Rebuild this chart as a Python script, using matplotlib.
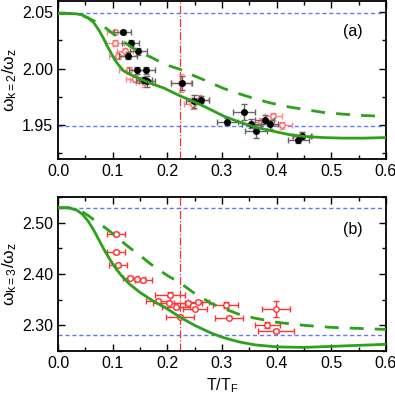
import matplotlib
matplotlib.use("Agg")
from matplotlib import pyplot as plt
from matplotlib.ticker import MultipleLocator, FormatStrFormatter

plt.rcParams['font.family'] = ['Liberation Sans', 'DejaVu Sans']
plt.rcParams['mathtext.fontset'] = 'custom'
plt.rcParams['mathtext.rm'] = 'Liberation Sans'
plt.rcParams['mathtext.it'] = 'Liberation Sans'

# theory curves, panel (a)
ta_x = [0.0, 0.02, 0.035, 0.045, 0.055, 0.065, 0.075, 0.083, 0.09, 0.098, 0.105, 0.113, 0.12, 0.13, 0.138, 0.15, 0.162, 0.175,
        0.193, 0.21, 0.223, 0.25, 0.27, 0.303, 0.33, 0.363, 0.39, 0.424, 0.45, 0.485, 0.52, 0.56, 0.6]
ta_solid = [2.049, 2.049, 2.0485, 2.0475, 2.045, 2.041, 2.034, 2.027, 2.020, 2.013, 2.007, 2.002, 1.998, 1.9955, 1.9935, 1.991,
            1.9885, 1.986, 1.983, 1.979, 1.976, 1.9705, 1.966, 1.958, 1.953, 1.948, 1.945, 1.9415, 1.9400, 1.939, 1.9385, 1.9385, 1.939]
ta_dash = [2.049, 2.049, 2.0485, 2.047, 2.045, 2.0425, 2.040, 2.0377, 2.035, 2.032, 2.0295, 2.027, 2.024, 2.0205, 2.018, 2.0155,
           2.012, 2.009, 2.0045, 2.0015, 1.9995, 1.9935, 1.9895, 1.9825, 1.978, 1.973, 1.9695, 1.966, 1.964, 1.9613, 1.9598, 1.9585, 1.9578]

# theory curves, panel (b)
tb_x = [0.0, 0.02, 0.035, 0.045, 0.055, 0.065, 0.075, 0.085, 0.095, 0.105, 0.115, 0.13, 0.15, 0.17, 0.2, 0.223, 0.25, 0.28,
        0.3, 0.33, 0.36, 0.4, 0.45, 0.5, 0.55, 0.6]
tb_solid = [2.529, 2.529, 2.524, 2.516, 2.503, 2.486, 2.466, 2.446, 2.428, 2.412, 2.398, 2.381, 2.364, 2.350, 2.332, 2.316,
            2.300, 2.285, 2.277, 2.268, 2.262, 2.258, 2.257, 2.259, 2.261, 2.263]
tb_dash = [2.529, 2.529, 2.525, 2.521, 2.514, 2.506, 2.499, 2.491, 2.483, 2.474, 2.465, 2.452, 2.436, 2.419, 2.397, 2.383,
           2.362, 2.343, 2.334, 2.322, 2.314, 2.306, 2.300, 2.296, 2.294, 2.292]

# panel (a) data, black points
ak_x = [0.118, 0.133, 0.147, 0.128, 0.145, 0.161, 0.157, 0.163, 0.226, 0.249, 0.261, 0.310, 0.340, 0.354, 0.363, 0.378, 0.387, 0.440, 0.446]
ak_y = [2.0326, 2.0228, 2.0154, 2.0116, 1.9985, 1.9985, 1.990, 1.9888, 1.9874, 1.971, 1.9725, 1.953, 1.9613, 1.9513, 1.9444, 1.955, 1.951, 1.937, 1.9406]
ak_xe = [0.016, 0.016, 0.015, 0.016, 0.016, 0.016, 0.015, 0.015, 0.02, 0.015, 0.016, 0.02, 0.02, 0.018, 0.02, 0.018, 0.016, 0.02, 0.016]
ak_ye = [0.002, 0.003, 0.003, 0.003, 0.003, 0.003, 0.003, 0.005, 0.006, 0.006, 0.003, 0.003, 0.007, 0.004, 0.006, 0.004, 0.004, 0.003, 0.003]

# panel (a) data, red open points
ar_x = [0.104, 0.104, 0.123, 0.109, 0.130, 0.147, 0.157, 0.140, 0.225, 0.258, 0.247, 0.394, 0.409, 0.447, 0.372]
ar_y = [2.0326, 2.0228, 2.0154, 2.0116, 1.9985, 1.990, 1.988, 1.991, 1.9874, 1.9725, 1.969, 1.958, 1.950, 1.9406, 1.953]
ar_xe = [0.014, 0.016, 0.015, 0.016, 0.018, 0.015, 0.015, 0.016, 0.018, 0.018, 0.016, 0.016, 0.02, 0.018, 0.018]
ar_ye = [0.002, 0.003, 0.003, 0.003, 0.003, 0.003, 0.004, 0.003, 0.008, 0.004, 0.005, 0.003, 0.003, 0.003, 0.003]

# panel (b) data
b_x = [0.106, 0.106, 0.110, 0.132, 0.144, 0.156, 0.205, 0.183, 0.203, 0.216, 0.223, 0.238, 0.250, 0.257, 0.307, 0.313, 0.399, 0.383, 0.399]
b_y = [2.4775, 2.443, 2.417, 2.393, 2.390, 2.388, 2.360, 2.348, 2.344, 2.335, 2.317, 2.344, 2.332, 2.346, 2.340, 2.315, 2.332, 2.300, 2.2885]
b_xe = [0.017, 0.017, 0.017, 0.014, 0.015, 0.016, 0.027, 0.022, 0.03, 0.025, 0.025, 0.025, 0.022, 0.02, 0.023, 0.025, 0.026, 0.023, 0.033]
b_ye = [0.004, 0.004, 0.004, 0.003, 0.003, 0.003, 0.004, 0.003, 0.003, 0.003, 0.003, 0.003, 0.003, 0.003, 0.006, 0.003, 0.016, 0.006, 0.004]

green = '#2ca21c'
blue = '#6677ff'
tfrac = 0.223

fig = plt.figure(figsize=(3.95, 4.0), dpi=100)
ax1 = fig.add_axes([0.147, 0.6025, 0.83, 0.395])
ax2 = fig.add_axes([0.147, 0.1225, 0.83, 0.385])


def style(ax):
    for s in ax.spines.values():
        s.set_linewidth(1.3)
    ax.tick_params(which='both', direction='in', top=True, right=True, labelsize=11.5, width=1)
    ax.tick_params(which='major', length=5)
    ax.tick_params(which='minor', length=3)
    ax.set_xlim(0.0, 0.6)
    ax.xaxis.set_major_locator(MultipleLocator(0.1))
    ax.xaxis.set_minor_locator(MultipleLocator(0.05))
    ax.yaxis.set_label_coords(-0.118, 0.5)


# panel (a)
ax1.axhline(2.049, color=blue, lw=1, ls=(0, (3, 2)))
ax1.axhline(1.949, color=blue, lw=1, ls=(0, (3, 2)))
ax1.axvline(tfrac, color='#ee3333', lw=0.9, ls='-.')
ax1.errorbar(ar_x, ar_y, xerr=ar_xe, yerr=ar_ye, fmt='o', ms=4, mfc='white', mec='#ff6666',
             ecolor='#ff8888', elinewidth=1, capsize=2, mew=1, zorder=3)
ax1.errorbar(ak_x, ak_y, xerr=ak_xe, yerr=ak_ye, fmt='o', ms=4, color='black',
             ecolor='#666666', elinewidth=1, capsize=2, zorder=4)
ax1.plot(ta_x, ta_solid, color=green, lw=2, zorder=5)
ax1.plot(ta_x, ta_dash, color=green, lw=2, ls=(0, (5, 4)), zorder=5)
ax1.set_ylim(1.92, 2.06)
ax1.yaxis.set_minor_locator(MultipleLocator(0.025))
ax1.set_yticks([1.95, 2.00, 2.05])
ax1.yaxis.set_major_formatter(FormatStrFormatter('%.2f'))
style(ax1)
ax1.set_ylabel(r'$\omega_{k=2}/\omega_z$', fontsize=12.5)
ax1.text(0.539, 2.033, '(a)', fontsize=11.5, ha='center', va='center')

# panel (b)
ax2.axhline(2.529, color=blue, lw=1, ls=(0, (3, 2)))
ax2.axhline(2.281, color=blue, lw=1, ls=(0, (3, 2)))
ax2.axvline(tfrac, color='#ee3333', lw=0.9, ls='-.')
ax2.errorbar(b_x, b_y, xerr=b_xe, yerr=b_ye, fmt='o', ms=4, mfc='white', mec='#ff3333',
             ecolor='#ff3333', elinewidth=1, capsize=2, mew=1, zorder=3)
ax2.plot(tb_x, tb_solid, color=green, lw=2, zorder=5)
ax2.plot(tb_x, tb_dash, color=green, lw=2, ls=(0, (5, 4)), zorder=5)
ax2.set_ylim(2.25, 2.55)
ax2.yaxis.set_major_locator(MultipleLocator(0.1))
ax2.yaxis.set_minor_locator(MultipleLocator(0.05))
ax2.yaxis.set_major_formatter(FormatStrFormatter('%.2f'))
style(ax2)
ax2.set_ylabel(r'$\omega_{k=3}/\omega_z$', fontsize=12.5)
ax2.set_xlabel(r'T/T$_\mathregular{F}$', fontsize=11.5)
ax2.text(0.539, 2.487, '(b)', fontsize=11.5, ha='center', va='center')

fig.savefig('out.png', dpi=100)
